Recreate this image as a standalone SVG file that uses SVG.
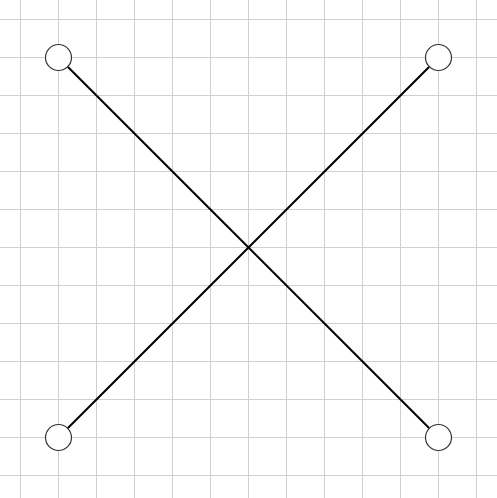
<svg xmlns="http://www.w3.org/2000/svg" width="497" height="498" viewBox="0 0 497 498">
<style>
.grid line{stroke:#d0d0d0;stroke-width:1}
.edge{stroke:#000;stroke-width:2;fill:none}
.node{fill:#fff;stroke:#333;stroke-width:1.2}
</style>
<rect width="497" height="498" fill="#fff"/>
<g class="grid">
<line x1="20.5" y1="0" x2="20.5" y2="498"/><line x1="58.5" y1="0" x2="58.5" y2="498"/><line x1="96.5" y1="0" x2="96.5" y2="498"/><line x1="134.5" y1="0" x2="134.5" y2="498"/><line x1="172.5" y1="0" x2="172.5" y2="498"/><line x1="210.5" y1="0" x2="210.5" y2="498"/><line x1="248.5" y1="0" x2="248.5" y2="498"/><line x1="286.5" y1="0" x2="286.5" y2="498"/><line x1="324.5" y1="0" x2="324.5" y2="498"/><line x1="362.5" y1="0" x2="362.5" y2="498"/><line x1="400.5" y1="0" x2="400.5" y2="498"/><line x1="438.5" y1="0" x2="438.5" y2="498"/><line x1="476.5" y1="0" x2="476.5" y2="498"/>
<line x1="0" y1="19.5" x2="497" y2="19.5"/><line x1="0" y1="57.5" x2="497" y2="57.5"/><line x1="0" y1="95.5" x2="497" y2="95.5"/><line x1="0" y1="133.5" x2="497" y2="133.5"/><line x1="0" y1="171.5" x2="497" y2="171.5"/><line x1="0" y1="209.5" x2="497" y2="209.5"/><line x1="0" y1="247.5" x2="497" y2="247.5"/><line x1="0" y1="285.5" x2="497" y2="285.5"/><line x1="0" y1="323.5" x2="497" y2="323.5"/><line x1="0" y1="361.5" x2="497" y2="361.5"/><line x1="0" y1="399.5" x2="497" y2="399.5"/><line x1="0" y1="437.5" x2="497" y2="437.5"/><line x1="0" y1="475.5" x2="497" y2="475.5"/>
</g>
<g id="connectors">
<line class="edge" x1="67.7" y1="66.7" x2="429.3" y2="428.3"/>
<line class="edge" x1="429.3" y1="66.7" x2="67.7" y2="428.3"/>
</g>
<g id="node-tl"><circle class="node" cx="58.5" cy="57.5" r="13"/></g>
<g id="node-tr"><circle class="node" cx="438.5" cy="57.5" r="13"/></g>
<g id="node-bl"><circle class="node" cx="58.5" cy="437.5" r="13"/></g>
<g id="node-br"><circle class="node" cx="438.5" cy="437.5" r="13"/></g>
</svg>
